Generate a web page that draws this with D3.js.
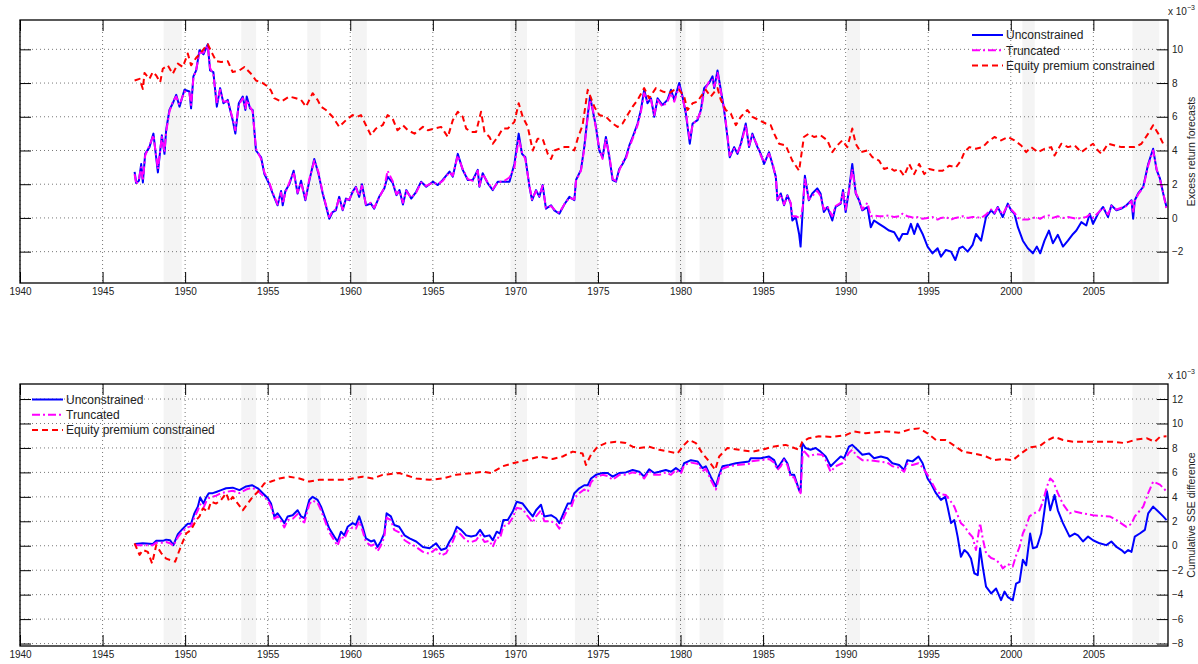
<!DOCTYPE html>
<html>
<head>
<meta charset="utf-8">
<script src="https://cdn.jsdelivr.net/npm/d3@7"></script>
<style>
  body { margin: 0; background: #fff; }
  text { font-family: Helvetica, Arial, "Liberation Sans", sans-serif; fill: #222; }
</style>
</head>
<body>
<div id="chart"></div>
<script>
// ---- data (values are x 10^-3) ----
const xTicks = [1940, 1945, 1950, 1955, 1960, 1965, 1970, 1975, 1980, 1985, 1990, 1995, 2000, 2005];
const topYTicks = [-2, 0, 2, 4, 6, 8, 10];
const bottomYTicks = [-8, -6, -4, -2, 0, 2, 4, 6, 8, 10, 12];
const seriesNames = ["Unconstrained", "Truncated", "Equity premium constrained"];

// shaded recession periods [start, end]
const recessions = [[1948.7, 1949.8], [1953.4, 1954.3], [1957.4, 1958.2], [1960.1, 1961.0], [1969.7, 1970.7],
  [1973.6, 1975.0], [1979.7, 1980.3], [1981.15, 1982.6], [1990.07, 1990.87], [2000.7, 2001.45], [2007.37, 2008.99]];

// top panel: excess return forecasts
const forecastUnconstrained = [
  [1946.94,2.73],[1947.04,2.07],[1947.20,2.2],[1947.34,3.2],[1947.44,2.1],[1947.58,3.8],[1947.84,4.2],[1948.08,5.0],[1948.35,2.7],[1948.59,4.9],[1948.75,3.8],[1948.85,5.2],[1949.05,6.4],[1949.25,6.8],[1949.46,7.3],[1949.66,6.6],[1949.96,7.6],[1950.26,7.5],[1950.36,6.5],[1950.50,8.4],[1950.67,8.75],[1950.87,9.95],[1951.11,9.7],[1951.37,10.3],[1951.51,8.75],[1951.71,8.65],[1951.92,6.6],[1952.12,7.7],[1952.32,6.8],[1952.58,7.0],[1952.88,5.8],[1953.04,5.0],[1953.25,6.8],[1953.49,7.2],[1953.65,6.4],[1953.73,7.2],[1953.93,6.5],[1954.09,6.4],[1954.29,4.0],[1954.60,3.6],[1954.80,2.6],[1955.10,2.0],[1955.30,1.45],[1955.60,0.75],[1955.81,1.6],[1955.91,0.75],[1956.07,1.6],[1956.31,2.0],[1956.57,2.8],[1956.81,1.45],[1957.02,2.2],[1957.28,1.05],[1957.52,2.2],[1957.82,3.5],[1958.08,2.6],[1958.33,1.45],[1958.49,0.85],[1958.73,-0.05],[1958.93,0.35],[1959.13,0.45],[1959.33,1.25],[1959.54,0.45],[1959.74,1.15],[1959.94,1.05],[1960.14,1.55],[1960.34,1.85],[1960.54,1.25],[1960.71,2.0],[1960.95,0.75],[1961.25,0.85],[1961.45,0.55],[1961.75,1.25],[1962.06,1.75],[1962.26,2.45],[1962.56,2.1],[1962.80,1.35],
  [1962.98,1.65],[1963.19,0.8],[1963.39,1.65],[1963.69,1.15],[1963.99,1.55],[1964.29,2.15],[1964.60,1.85],[1965.00,2.15],[1965.30,1.95],[1965.60,2.25],[1966.01,2.75],[1966.21,2.45],[1966.51,3.8],[1966.81,2.85],[1967.12,2.25],[1967.42,2.25],[1967.72,2.85],[1967.82,1.85],[1968.02,2.65],[1968.33,2.05],[1968.63,1.65],[1968.93,2.15],[1969.33,2.15],[1969.64,2.15],[1969.94,3.2],[1970.20,5.0],[1970.40,3.8],[1970.60,3.6],[1970.85,1.85],[1971.01,1.05],[1971.25,1.65],[1971.45,1.25],[1971.65,1.95],[1971.85,0.55],[1972.16,0.75],[1972.36,0.45],[1972.66,0.25],[1972.96,0.8],[1973.27,1.25],[1973.57,1.05],[1973.67,2.25],[1973.97,2.85],[1974.17,4.2],[1974.38,6.1],[1974.52,7.2],[1974.68,6.4],[1974.88,5.4],[1975.08,4.0],[1975.28,3.6],[1975.48,4.8],[1975.69,3.6],[1975.89,2.25],[1976.09,2.15],[1976.29,2.9],[1976.49,3.2],[1976.69,3.6],[1976.90,4.3],[1977.10,4.8],[1977.40,5.6],[1977.60,6.4],[1977.80,7.6],[1978.00,6.8],[1978.21,7.1],[1978.41,6.0],[1978.61,7.1],[1978.91,6.7],[1979.21,7.0],[1979.42,7.6],[1979.62,7.0],[1979.92,8.0],[1980.12,7.2],[1980.32,6.2],[1980.56,4.4],[1980.73,5.6],[1981.03,5.8],[1981.23,6.4],[1981.43,7.7],[1981.73,8.0],[1981.94,8.4],[1982.04,7.7],[1982.24,8.75],[1982.44,7.6],[1982.64,6.4],[1982.84,4.8],[1982.98,3.6],[1983.25,4.2],[1983.45,3.8],[1983.65,4.4],[1983.95,5.6],[1984.15,4.2],[1984.35,5.0],[1984.66,4.2],[1984.86,3.8],[1985.06,3.2],[1985.36,3.9],[1985.56,3.2],[1985.77,2.45],[1985.87,1.05],[1986.07,1.45],[1986.27,0.75],[1986.47,1.35],[1986.67,0.85],[1986.77,-0.15],[1986.98,0.05],[1987.18,-0.95],
  [1987.27,-1.7],[1987.41,0.65],[1987.53,2.5],[1987.77,1.05],[1987.98,1.45],[1988.28,1.75],[1988.48,1.45],[1988.68,0.35],[1988.89,0.65],[1989.19,-0.15],[1989.39,0.65],[1989.70,0.85],[1989.84,1.65],[1990.00,0.35],[1990.20,1.65],[1990.40,3.2],[1990.61,1.45],[1990.81,1.05],[1991.01,0.45],[1991.32,0.65],[1991.52,-0.55],[1991.72,-0.15],[1992.02,-0.35],[1992.33,-0.55],[1992.63,-0.75],[1992.94,-0.85],[1993.24,-1.35],[1993.44,-0.95],[1993.74,-0.95],[1993.95,-0.35],[1994.15,-0.95],[1994.35,-0.35],[1994.66,-0.95],[1994.96,-1.7],[1995.26,-2.1],[1995.57,-1.8],[1995.77,-2.3],[1996.07,-1.9],[1996.38,-2.0],[1996.64,-2.5],[1996.88,-1.8],[1997.09,-1.7],[1997.39,-2.0],[1997.69,-1.6],[1997.89,-0.95],[1998.20,-1.35],[1998.50,0.05],[1998.81,0.45],[1999.01,0.25],[1999.21,0.65],[1999.51,0.05],[1999.82,0.85],[2000.02,0.45],[2000.22,0.25],[2000.43,-0.55],[2000.73,-1.35],[2001.03,-1.8],[2001.34,-2.1],[2001.58,-1.7],[2001.78,-2.1],[2002.04,-1.35],[2002.31,-0.75],[2002.55,-1.5],[2002.85,-1.0],[2003.16,-1.7],[2003.46,-1.35],[2003.77,-0.95],[2003.97,-0.75],[2004.27,-0.25],[2004.57,-0.45],[2004.78,0.25],[2004.98,-0.35],[2005.28,0.25],[2005.59,0.65],[2005.89,0.05],[2006.09,0.75],[2006.40,0.45],[2006.70,0.55],[2007.00,0.75],[2007.31,1.05],[2007.41,-0.05],[2007.51,1.05],[2007.71,1.45],[2008.02,1.85],[2008.32,3.2],[2008.62,4.1],[2008.83,2.85],[2009.03,2.35],[2009.23,1.45],[2009.43,0.65]
];

const forecastTruncated = [
  [1946.94,2.6],[1947.04,2.0],[1947.20,2.3],[1947.34,3.0],[1947.44,2.2],[1947.58,3.7],[1947.84,4.3],[1948.08,4.9],[1948.35,2.9],[1948.59,4.8],[1948.75,3.9],[1948.85,5.1],[1949.05,6.3],[1949.25,6.9],[1949.46,7.2],[1949.66,6.7],[1949.96,7.5],[1950.26,7.4],[1950.36,6.7],[1950.50,8.3],[1950.67,8.8],[1950.87,9.8],[1951.11,9.8],[1951.37,10.2],[1951.51,8.9],[1951.71,8.5],[1951.92,6.8],[1952.12,7.6],[1952.32,6.9],[1952.58,6.9],[1952.88,5.9],[1953.04,5.2],[1953.25,6.7],[1953.49,7.1],[1953.65,6.5],[1953.73,7.0],[1953.93,6.6],[1954.09,6.3],[1954.29,4.1],[1954.60,3.5],[1954.80,2.7],[1955.10,2.1],[1955.30,1.5],[1955.60,0.8],[1955.81,1.5],[1955.91,0.85],[1956.07,1.5],[1956.31,2.1],[1956.57,2.7],[1956.81,1.5],[1957.02,2.1],[1957.28,1.1],[1957.52,2.3],[1957.82,3.4],[1958.08,2.7],[1958.33,1.5],[1958.49,0.9],[1958.73,0.05],[1958.93,0.4],[1959.13,0.5],[1959.33,1.2],[1959.54,0.5],[1959.74,1.1],[1959.94,1.1],[1960.14,1.5],[1960.34,1.8],[1960.54,1.3],[1960.71,1.9],[1960.95,0.8],[1961.25,0.9],[1961.45,0.6],[1961.75,1.2],[1962.06,1.8],[1962.26,2.8],[1962.56,2.2],[1962.80,1.4],
  [1962.98,1.6],[1963.19,0.9],[1963.39,1.6],[1963.69,1.2],[1963.99,1.5],[1964.29,2.1],[1964.60,1.9],[1965.00,2.1],[1965.30,2.0],[1965.60,2.2],[1966.01,2.7],[1966.21,2.5],[1966.51,3.7],[1966.81,2.9],[1967.12,2.3],[1967.42,2.2],[1967.72,2.8],[1967.82,1.9],[1968.02,2.6],[1968.33,2.1],[1968.63,1.7],[1968.93,2.1],[1969.33,2.2],[1969.64,2.4],[1969.94,3.0],[1970.20,4.7],[1970.40,3.9],[1970.60,3.5],[1970.85,1.9],[1971.01,1.1],[1971.25,1.6],[1971.45,1.3],[1971.65,1.9],[1971.85,0.6],[1972.16,0.7],[1972.36,0.5],[1972.66,0.3],[1972.96,0.8],[1973.27,1.2],[1973.57,1.1],[1973.67,2.2],[1973.97,2.8],[1974.17,4.1],[1974.38,6.0],[1974.52,7.0],[1974.68,6.5],[1974.88,5.3],[1975.08,4.1],[1975.28,3.5],[1975.48,4.7],[1975.69,3.7],[1975.89,2.3],[1976.09,2.2],[1976.29,2.8],[1976.49,3.3],[1976.69,3.5],[1976.90,4.2],[1977.10,4.7],[1977.40,5.5],[1977.60,6.3],[1977.80,7.4],[1978.00,6.9],[1978.21,7.0],[1978.41,6.1],[1978.61,7.0],[1978.91,6.6],[1979.21,6.9],[1979.42,7.4],[1979.62,6.9],[1979.92,7.8],[1980.12,7.1],[1980.32,6.3],[1980.56,4.6],[1980.73,5.5],[1981.03,5.9],[1981.23,6.3],[1981.43,7.5],[1981.73,8.1],[1981.94,8.2],[1982.04,7.8],[1982.24,8.6],[1982.44,7.5],[1982.64,6.5],[1982.84,4.9],[1982.98,3.7],[1983.25,4.1],[1983.45,3.9],[1983.65,4.3],[1983.95,5.5],[1984.15,4.3],[1984.35,4.9],[1984.66,4.3],[1984.86,3.7],[1985.06,3.3],[1985.36,3.8],[1985.56,3.3],[1985.77,2.4],[1985.87,1.1],[1986.07,1.4],[1986.27,0.8],[1986.47,1.3],[1986.67,0.9],[1986.77,0.1],[1986.98,0.1],[1987.18,0.0],
  [1987.27,0.0],[1987.41,0.7],[1987.53,2.3],[1987.77,1.1],[1987.98,1.3],[1988.28,1.6],[1988.48,1.3],[1988.68,0.5],[1988.89,0.7],[1989.19,0.1],[1989.39,0.7],[1989.70,0.9],[1989.84,1.5],[1990.00,0.5],[1990.20,1.6],[1990.40,2.9],[1990.61,1.5],[1990.81,1.1],[1991.01,0.5],[1991.32,0.9],[1991.52,0.1],[1991.72,0.15],[1992.02,0.1],[1992.33,0.1],[1992.63,0.15],[1992.94,0.05],[1993.24,0.1],[1993.44,0.25],[1993.74,0.1],[1993.95,0.05],[1994.15,0.0],[1994.35,0.05],[1994.66,-0.05],[1994.96,0.0],[1995.26,0.05],[1995.57,-0.1],[1995.77,0.0],[1996.07,0.05],[1996.38,-0.1],[1996.64,0.0],[1996.88,0.05],[1997.09,0.1],[1997.39,0.0],[1997.69,0.05],[1997.89,0.05],[1998.20,0.0],[1998.50,0.2],[1998.81,0.5],[1999.01,0.3],[1999.21,0.6],[1999.51,0.2],[1999.82,0.8],[2000.02,0.5],[2000.22,0.3],[2000.43,0.0],[2000.73,-0.1],[2001.03,-0.1],[2001.34,0.0],[2001.58,0.05],[2001.78,-0.05],[2002.04,0.1],[2002.31,0.15],[2002.55,0.0],[2002.85,0.1],[2003.16,0.0],[2003.46,0.05],[2003.77,0.0],[2003.97,-0.05],[2004.27,0.0],[2004.57,0.05],[2004.78,0.2],[2004.98,0.0],[2005.28,0.3],[2005.59,0.6],[2005.89,0.2],[2006.09,0.7],[2006.40,0.5],[2006.70,0.6],[2007.00,0.7],[2007.31,1.0],[2007.41,0.3],[2007.51,1.0],[2007.71,1.4],[2008.02,1.8],[2008.32,3.1],[2008.62,4.0],[2008.83,2.9],[2009.03,2.3],[2009.23,1.5],[2009.43,0.5]
];

const forecastConstrained = [
  [1946.94,8.15],[1947.24,8.25],[1947.44,7.65],[1947.54,8.6],[1947.84,8.25],[1948.04,8.65],[1948.25,8.45],[1948.49,8.05],[1948.65,8.85],[1948.95,9.05],[1949.25,8.55],[1949.56,9.15],[1949.86,8.95],[1950.16,9.75],[1950.36,9.05],[1950.67,9.5],[1950.87,9.7],[1951.11,10.0],[1951.37,10.3],[1951.67,9.7],[1951.88,9.3],[1952.18,9.25],[1952.58,9.3],[1952.88,8.65],[1953.29,8.75],[1953.59,8.95],[1953.99,8.55],[1954.29,8.15],[1954.70,8.0],[1955.00,7.8],[1955.20,7.55],[1955.40,7.1],[1955.81,6.9],[1956.31,7.2],[1956.71,7.1],[1957.02,7.0],[1957.32,6.6],[1957.72,7.4],[1958.02,7.0],[1958.23,6.6],[1958.53,6.4],[1958.93,6.0],[1959.33,5.4],[1959.74,5.8],[1960.14,6.1],[1960.44,6.0],[1960.65,6.1],[1960.95,5.5],[1961.25,4.9],[1961.55,5.3],[1961.96,5.5],[1962.26,6.1],[1962.56,5.9],[1962.86,5.2],
  [1963.19,5.5],[1963.49,5.2],[1963.89,5.0],[1964.40,5.4],[1964.70,5.2],[1965.10,5.3],[1965.50,5.4],[1965.91,4.8],[1966.21,5.8],[1966.51,6.3],[1966.81,6.0],[1967.02,5.3],[1967.32,5.1],[1967.62,5.1],[1967.92,6.3],[1968.13,5.1],[1968.43,4.8],[1968.63,4.4],[1968.93,4.8],[1969.23,5.3],[1969.54,5.3],[1969.94,5.7],[1970.20,6.8],[1970.44,6.0],[1970.75,5.4],[1971.05,4.0],[1971.35,4.7],[1971.65,4.7],[1971.96,3.8],[1972.16,3.5],[1972.36,4.0],[1972.66,4.1],[1972.96,4.2],[1973.27,4.2],[1973.57,4.0],[1973.77,4.7],[1974.07,5.5],[1974.38,7.6],[1974.58,7.1],[1974.78,6.6],[1975.08,6.1],[1975.48,6.0],[1975.89,5.6],[1976.19,5.4],[1976.49,5.6],[1976.79,6.1],[1977.10,6.6],[1977.40,7.0],[1977.80,7.7],[1978.10,7.1],[1978.51,7.7],[1978.91,7.5],[1979.31,7.4],[1979.62,7.6],[1979.92,7.6],[1980.22,7.2],[1980.42,6.4],[1980.73,6.8],[1981.03,6.9],[1981.23,7.2],[1981.53,7.6],[1981.83,7.2],[1982.24,7.7],[1982.44,7.0],[1982.74,6.4],[1983.04,6.2],[1983.35,5.5],[1983.65,6.0],[1984.05,6.4],[1984.35,6.0],[1984.76,5.8],[1985.16,5.6],[1985.46,5.5],[1985.67,5.0],[1985.97,4.4],[1986.37,4.3],[1986.77,3.4],[1987.18,2.8],
  [1987.47,4.8],[1987.77,5.0],[1988.08,4.8],[1988.48,4.9],[1988.89,4.6],[1989.19,3.9],[1989.49,4.3],[1989.80,4.6],[1990.10,4.2],[1990.40,5.3],[1990.61,4.4],[1990.91,3.9],[1991.32,4.0],[1991.62,3.6],[1992.02,3.4],[1992.33,2.9],[1992.63,3.0],[1992.94,2.8],[1993.24,2.9],[1993.54,2.5],[1993.85,3.2],[1994.15,2.6],[1994.45,3.2],[1994.76,2.6],[1995.06,2.9],[1995.47,2.8],[1995.87,2.8],[1996.28,3.1],[1996.68,3.0],[1996.98,3.4],[1997.19,3.9],[1997.49,4.2],[1997.89,4.1],[1998.30,4.2],[1998.60,4.5],[1999.01,4.8],[1999.41,4.6],[1999.82,4.8],[2000.22,4.6],[2000.63,4.3],[2000.93,3.9],[2001.23,4.2],[2001.64,3.9],[2002.04,4.1],[2002.45,4.2],[2002.65,3.7],[2003.06,4.4],[2003.46,4.2],[2003.87,4.3],[2004.27,3.9],[2004.68,4.2],[2004.98,4.4],[2005.28,4.0],[2005.49,3.8],[2005.89,4.4],[2006.30,4.3],[2006.70,4.2],[2007.11,4.2],[2007.51,4.2],[2007.91,4.4],[2008.32,5.0],[2008.62,5.5],[2008.93,5.0],[2009.23,4.4],[2009.43,4.3]
];

// bottom panel: cumulative SSE difference
const sseUnconstrained = [
  [1946.94,0.15],[1947.44,0.2],[1948.04,0.15],[1948.25,0.4],[1948.65,0.4],[1948.85,0.5],[1949.09,0.45],[1949.29,0.05],[1949.56,0.95],[1949.86,1.4],[1950.16,1.8],[1950.36,1.8],[1950.56,2.65],[1950.77,3.2],[1950.91,3.95],[1951.11,3.45],[1951.27,3.95],[1951.43,4.3],[1951.67,4.3],[1951.88,4.4],[1952.18,4.55],[1952.48,4.7],[1952.88,4.75],[1953.29,4.55],[1953.69,4.85],[1954.05,4.95],[1954.40,4.7],[1954.70,4.3],[1955.00,3.9],[1955.20,3.45],[1955.40,2.4],[1955.60,2.65],[1955.81,2.25],[1956.01,1.85],[1956.21,2.4],[1956.51,2.5],[1956.81,2.9],[1957.02,2.4],[1957.22,2.25],[1957.52,3.75],[1957.72,4.0],[1958.02,3.75],[1958.23,3.2],[1958.53,2.1],[1958.73,1.4],[1959.03,0.75],[1959.23,0.35],[1959.44,1.15],[1959.64,0.85],[1959.84,1.55],[1960.14,1.85],[1960.34,1.7],[1960.54,2.4],[1960.75,1.55],[1960.95,0.6],[1961.25,0.35],[1961.45,0.45],[1961.65,-0.1],[1961.85,0.35],[1962.06,1.0],[1962.20,2.65],[1962.46,2.4],[1962.66,1.7],[1962.96,1.55],
  [1963.29,0.85],[1963.59,0.6],[1963.99,0.35],[1964.40,-0.1],[1964.80,-0.2],[1965.20,0.2],[1965.50,-0.35],[1965.81,-0.2],[1966.01,0.35],[1966.21,0.75],[1966.45,1.55],[1966.71,1.3],[1967.02,0.85],[1967.32,0.75],[1967.62,0.85],[1967.86,1.3],[1968.13,0.75],[1968.43,0.85],[1968.63,0.45],[1968.87,1.15],[1969.07,1.0],[1969.27,2.1],[1969.54,2.1],[1969.84,2.8],[1970.08,3.6],[1970.44,3.45],[1970.75,2.9],[1971.05,2.4],[1971.25,2.9],[1971.55,3.35],[1971.75,2.4],[1972.16,2.5],[1972.46,2.25],[1972.66,1.85],[1972.96,2.8],[1973.17,3.45],[1973.37,3.45],[1973.57,4.3],[1973.87,4.7],[1974.17,4.95],[1974.38,4.95],[1974.58,5.5],[1974.88,5.8],[1975.28,5.95],[1975.58,5.95],[1975.89,5.65],[1976.29,5.95],[1976.69,6.0],[1977.10,6.2],[1977.50,6.05],[1977.80,5.65],[1978.10,6.25],[1978.41,5.95],[1978.71,6.05],[1979.11,6.2],[1979.42,6.05],[1979.72,6.35],[1980.02,6.05],[1980.22,6.75],[1980.63,7.0],[1981.03,6.9],[1981.33,6.35],[1981.53,6.5],[1981.83,5.65],[1982.14,4.85],[1982.34,5.8],[1982.54,6.5],[1982.94,6.6],[1983.35,6.75],[1984.15,6.9],[1984.25,7.15],[1984.86,7.15],[1985.36,7.3],[1985.67,7.0],[1985.87,6.35],[1986.07,6.75],[1986.27,7.15],[1986.47,6.75],[1986.67,5.8],[1986.88,5.8],[1987.18,4.55],
  [1987.27,4.4],[1987.37,8.4],[1987.57,8.0],[1987.87,7.85],[1988.18,8.0],[1988.48,7.7],[1988.79,7.3],[1989.09,6.5],[1989.39,6.9],[1989.70,7.3],[1989.90,7.15],[1990.20,8.1],[1990.40,8.25],[1990.71,7.85],[1991.01,7.45],[1991.42,7.55],[1991.72,7.15],[1992.13,7.3],[1992.53,7.15],[1992.83,6.75],[1993.24,6.6],[1993.54,6.2],[1993.74,7.0],[1994.05,6.9],[1994.41,7.3],[1994.66,6.75],[1994.96,5.5],[1995.16,5.1],[1995.47,4.3],[1995.77,3.75],[1996.03,4.0],[1996.17,3.2],[1996.38,1.85],[1996.58,2.1],[1996.78,0.75],[1996.98,-0.9],[1997.19,-0.35],[1997.39,-0.6],[1997.59,-1.05],[1997.79,-2.25],[1998.00,-2.4],[1998.14,-0.2],[1998.30,-1.7],[1998.50,-3.35],[1998.81,-3.9],[1999.11,-3.5],[1999.41,-4.45],[1999.62,-3.75],[1999.82,-4.2],[2000.12,-4.45],[2000.32,-3.1],[2000.53,-2.95],[2000.73,-1.15],[2000.93,-1.6],[2001.17,1.0],[2001.34,-0.2],[2001.58,-0.1],[2001.84,1.0],[2002.04,2.9],[2002.19,4.45],[2002.39,2.9],[2002.65,4.15],[2002.85,2.9],[2003.16,1.85],[2003.36,1.3],[2003.56,0.75],[2003.87,1.0],[2004.07,0.85],[2004.37,0.35],[2004.68,0.75],[2004.98,0.45],[2005.38,0.2],[2005.79,0.05],[2006.09,0.35],[2006.40,-0.1],[2006.70,-0.35],[2006.90,-0.6],[2007.11,-0.35],[2007.31,-0.5],[2007.51,0.75],[2007.81,1.0],[2008.12,1.3],[2008.32,2.65],[2008.62,3.2],[2008.93,2.8],[2009.23,2.4],[2009.43,2.1]
];

const sseTruncated = [
  [1946.94,0.05],[1947.44,0.05],[1948.04,0.05],[1948.25,0.25],[1948.65,0.25],[1948.85,0.3],[1949.09,0.2],[1949.29,0.0],[1949.56,0.7],[1949.86,1.2],[1950.16,1.5],[1950.36,1.6],[1950.56,2.3],[1950.77,2.9],[1950.91,3.4],[1951.11,3.1],[1951.27,3.6],[1951.43,3.9],[1951.67,4.0],[1951.88,4.1],[1952.18,4.3],[1952.48,4.4],[1952.88,4.5],[1953.29,4.3],[1953.69,4.6],[1954.05,4.75],[1954.40,4.5],[1954.70,4.1],[1955.00,3.7],[1955.20,3.2],[1955.40,2.2],[1955.60,2.4],[1955.81,2.0],[1956.01,1.5],[1956.21,2.1],[1956.51,2.2],[1956.81,2.6],[1957.02,2.1],[1957.22,1.9],[1957.52,3.4],[1957.72,3.7],[1958.02,3.5],[1958.23,2.9],[1958.53,1.8],[1958.73,1.1],[1959.03,0.45],[1959.23,0.0],[1959.44,0.8],[1959.64,0.55],[1959.84,1.2],[1960.14,1.5],[1960.34,1.4],[1960.54,2.0],[1960.75,1.2],[1960.95,0.3],[1961.25,0.0],[1961.45,0.1],[1961.65,-0.45],[1961.85,0.0],[1962.06,0.7],[1962.20,2.3],[1962.46,2.1],[1962.66,1.3],[1962.96,1.1],
  [1963.29,0.45],[1963.59,0.2],[1963.99,-0.1],[1964.40,-0.5],[1964.80,-0.65],[1965.20,-0.25],[1965.50,-0.8],[1965.81,-0.6],[1966.01,-0.05],[1966.21,0.35],[1966.45,1.2],[1966.71,0.9],[1967.02,0.4],[1967.32,0.3],[1967.62,0.45],[1967.86,0.9],[1968.13,0.3],[1968.43,0.4],[1968.63,-0.1],[1968.87,0.7],[1969.07,0.6],[1969.27,1.6],[1969.54,1.7],[1969.84,2.3],[1970.08,3.1],[1970.44,3.0],[1970.75,2.4],[1971.05,1.9],[1971.25,2.4],[1971.55,2.9],[1971.75,2.0],[1972.16,2.0],[1972.46,1.8],[1972.66,1.4],[1972.96,2.4],[1973.17,3.0],[1973.37,3.1],[1973.57,3.9],[1973.87,4.3],[1974.17,4.6],[1974.38,4.4],[1974.58,5.2],[1974.88,5.6],[1975.28,5.8],[1975.58,5.7],[1975.89,5.4],[1976.29,5.8],[1976.69,5.8],[1977.10,6.0],[1977.50,5.9],[1977.80,5.5],[1978.10,6.1],[1978.41,5.8],[1978.71,5.8],[1979.11,6.0],[1979.42,5.8],[1979.72,6.2],[1980.02,5.9],[1980.22,6.6],[1980.63,6.8],[1981.03,6.7],[1981.33,6.1],[1981.53,6.3],[1981.83,5.4],[1982.14,4.6],[1982.34,5.6],[1982.54,6.3],[1982.94,6.5],[1983.35,6.6],[1984.15,6.7],[1984.25,6.9],[1984.86,7.0],[1985.36,7.1],[1985.67,6.8],[1985.87,6.2],[1986.07,6.5],[1986.27,7.0],[1986.47,6.6],[1986.67,5.6],[1986.88,5.6],[1987.18,4.5],
  [1987.27,4.3],[1987.41,7.85],[1987.77,7.3],[1988.18,7.5],[1988.58,7.45],[1988.79,7.0],[1989.09,6.05],[1989.39,6.5],[1989.80,6.75],[1990.20,7.6],[1990.40,7.85],[1990.71,7.3],[1991.01,7.0],[1991.42,7.0],[1992.02,6.9],[1992.53,6.8],[1992.83,6.5],[1993.24,6.4],[1993.54,6.05],[1993.74,6.7],[1994.05,6.6],[1994.41,6.75],[1994.66,6.4],[1994.96,5.8],[1995.47,4.55],[1995.77,4.2],[1996.07,4.15],[1996.38,3.6],[1996.58,3.2],[1996.78,2.5],[1996.98,1.85],[1997.19,1.6],[1997.49,1.0],[1997.69,0.7],[1997.89,-0.35],[1998.14,1.85],[1998.30,0.6],[1998.50,-0.6],[1998.81,-1.0],[1999.11,-1.15],[1999.41,-1.6],[1999.51,-1.85],[1999.82,-1.5],[2000.12,-1.7],[2000.32,-0.8],[2000.53,-0.1],[2000.73,1.0],[2000.93,1.6],[2001.13,2.4],[2001.34,2.6],[2001.74,2.9],[2001.94,3.6],[2002.19,4.85],[2002.39,5.5],[2002.55,5.3],[2002.85,4.3],[2003.16,3.4],[2003.56,2.65],[2003.87,2.8],[2004.37,2.65],[2004.98,2.5],[2005.38,2.45],[2005.99,2.4],[2006.40,2.1],[2007.00,1.55],[2007.31,1.8],[2007.51,2.4],[2008.02,3.2],[2008.32,4.3],[2008.62,5.25],[2009.03,5.0],[2009.43,4.45]
];

const sseConstrained = [
  [1946.94,0.2],[1947.24,-0.75],[1947.44,-0.35],[1947.74,-0.5],[1948.00,-1.45],[1948.25,0.05],[1948.55,-0.6],[1948.85,-1.05],[1949.15,-1.2],[1949.40,-1.3],[1949.66,-0.35],[1950.06,1.0],[1950.36,1.3],[1950.67,2.1],[1950.87,2.4],[1951.07,3.05],[1951.37,2.8],[1951.57,3.6],[1951.88,3.45],[1952.18,3.75],[1952.48,4.3],[1952.68,3.6],[1952.88,4.0],[1953.19,3.45],[1953.49,2.9],[1953.79,3.45],[1954.09,4.0],[1954.50,4.55],[1954.80,5.1],[1955.20,5.25],[1955.71,5.5],[1956.31,5.65],[1956.92,5.5],[1957.52,5.25],[1958.13,5.4],[1958.93,5.4],[1959.74,5.4],[1960.14,5.5],[1960.75,5.65],[1961.35,5.5],[1961.96,5.8],[1962.96,5.95],
  [1963.99,5.5],[1964.80,5.4],[1965.60,5.5],[1966.41,5.8],[1967.42,5.95],[1968.02,6.05],[1968.53,5.95],[1969.23,6.5],[1969.84,6.75],[1970.65,7.0],[1971.45,7.3],[1972.26,7.1],[1972.86,7.3],[1973.47,7.7],[1974.07,7.55],[1974.27,6.6],[1974.58,7.45],[1974.98,8.1],[1975.48,8.4],[1976.09,8.5],[1976.69,8.4],[1977.10,8.1],[1977.50,8.0],[1978.10,8.1],[1978.71,7.85],[1979.31,7.7],[1979.82,7.55],[1980.22,8.25],[1980.52,8.65],[1980.93,8.4],[1981.33,7.55],[1981.73,6.9],[1982.10,6.2],[1982.34,7.3],[1982.84,8.0],[1983.55,7.85],[1984.35,7.7],[1984.96,7.85],[1985.56,8.1],[1986.37,8.25],[1987.18,7.85],
  [1987.37,8.5],[1987.77,8.8],[1988.38,8.95],[1989.19,8.9],[1990.00,9.05],[1990.51,9.35],[1991.21,9.2],[1992.43,9.35],[1993.24,9.25],[1993.85,9.5],[1994.45,9.6],[1994.96,9.2],[1995.47,8.65],[1996.07,8.65],[1996.68,8.1],[1997.09,7.7],[1997.69,7.55],[1998.10,7.45],[1998.50,7.3],[1999.01,7.0],[1999.51,7.1],[2000.12,7.0],[2000.63,7.55],[2001.13,8.05],[2001.74,8.15],[2002.25,8.65],[2002.65,8.9],[2003.16,8.65],[2003.77,8.5],[2004.57,8.5],[2005.38,8.5],[2006.19,8.5],[2006.90,8.4],[2007.61,8.7],[2008.22,8.8],[2008.72,8.5],[2009.03,8.9],[2009.43,8.95]
];

// ---- layout ----
const WIDTH = 1198;
const HEIGHT = 664;
const PLOT_LEFT = 20;
const PLOT_RIGHT = 1168;
const X_DOMAIN = [1940, 2009.52];
const TICK_LEN = 11;

const lineStyles = [
    {color: "#0000ff", dash: null},
    {color: "#ff00ff", dash: "8,3,2,3"},
    {color: "#ff0000", dash: "6,4"}
];

const svg = d3.select("#chart")
    .append("svg")
    .attr("width", WIDTH)
    .attr("height", HEIGHT);

const xScale = d3.scaleLinear().domain(X_DOMAIN).range([PLOT_LEFT, PLOT_RIGHT]);

function drawPanel(panel) {
    const yScale = d3.scaleLinear().domain(panel.yDomain).range([panel.bottom, panel.top]);
    const g = svg.append("g");

    // clip for data lines
    g.append("clipPath").attr("id", panel.id + "-clip")
        .append("rect")
        .attr("x", PLOT_LEFT).attr("y", panel.top)
        .attr("width", PLOT_RIGHT - PLOT_LEFT).attr("height", panel.bottom - panel.top);

    // recession shading
    g.selectAll("rect.rec")
        .data(recessions)
        .join("rect")
        .attr("class", "rec")
        .attr("x", d => xScale(d[0]))
        .attr("width", d => xScale(d[1]) - xScale(d[0]))
        .attr("y", panel.top)
        .attr("height", panel.bottom - panel.top)
        .attr("fill", "#f4f4f4");

    // dotted grid
    g.selectAll("line.vgrid")
        .data(xTicks)
        .join("line")
        .attr("x1", d => xScale(d)).attr("x2", d => xScale(d))
        .attr("y1", panel.top).attr("y2", panel.bottom)
        .attr("stroke", "#555").attr("stroke-width", 0.8).attr("stroke-dasharray", "1,3");
    g.selectAll("line.hgrid")
        .data(panel.yTicks)
        .join("line")
        .attr("x1", PLOT_LEFT).attr("x2", PLOT_RIGHT)
        .attr("y1", d => yScale(d)).attr("y2", d => yScale(d))
        .attr("stroke", "#555").attr("stroke-width", 0.8).attr("stroke-dasharray", "1,3");

    // series lines
    const line = d3.line().x(d => xScale(d[0])).y(d => yScale(d[1]));
    const lines = g.append("g").attr("clip-path", `url(#${panel.id}-clip)`);
    panel.series.forEach((s, i) => {
        lines.append("path")
            .datum(s)
            .attr("d", line)
            .attr("fill", "none")
            .attr("stroke", lineStyles[i].color)
            .attr("stroke-width", 2)
            .attr("stroke-linejoin", "round")
            .attr("stroke-dasharray", lineStyles[i].dash);
    });

    // axes with inward ticks on all four sides
    const bottomAxis = g.append("g")
        .attr("transform", `translate(0,${panel.bottom})`)
        .call(d3.axisBottom(xScale).tickValues(xTicks).tickFormat(d3.format("d"))
            .tickSizeInner(-TICK_LEN).tickSizeOuter(0).tickPadding(5));
    g.append("g")
        .attr("transform", `translate(0,${panel.top})`)
        .call(d3.axisTop(xScale).tickValues(xTicks).tickFormat("")
            .tickSizeInner(-TICK_LEN).tickSizeOuter(0));
    g.append("g")
        .attr("transform", `translate(${PLOT_LEFT},0)`)
        .call(d3.axisLeft(yScale).tickValues(panel.yTicks).tickFormat("")
            .tickSizeInner(-TICK_LEN).tickSizeOuter(0));
    const rightAxis = g.append("g")
        .attr("transform", `translate(${PLOT_RIGHT},0)`)
        .call(d3.axisRight(yScale).tickValues(panel.yTicks)
            .tickSizeInner(-TICK_LEN).tickSizeOuter(0).tickPadding(4));

    g.selectAll(".domain").remove();
    g.selectAll(".tick line").attr("stroke", "#000").attr("stroke-width", 1);
    g.selectAll(".tick text")
        .attr("font-size", 10)
        .attr("font-family", "Helvetica, Arial, 'Liberation Sans', sans-serif")
        .attr("fill", "#222");

    // box
    g.append("rect")
        .attr("x", PLOT_LEFT).attr("y", panel.top)
        .attr("width", PLOT_RIGHT - PLOT_LEFT).attr("height", panel.bottom - panel.top)
        .attr("fill", "none").attr("stroke", "#000").attr("stroke-width", 1.3);

    // exponent label
    const expo = g.append("text")
        .attr("x", PLOT_RIGHT)
        .attr("y", panel.top - 5)
        .attr("font-size", 10);
    expo.append("tspan").text("x 10");
    expo.append("tspan").attr("font-size", 7).attr("dy", -5).text("\u22123");

    // y label on the right
    g.append("text")
        .attr("transform", `translate(1195,${(panel.top + panel.bottom) / 2}) rotate(-90)`)
        .attr("text-anchor", "middle")
        .attr("font-size", 10.5)
        .text(panel.yLabel);

    // legend (no frame)
    const legend = g.append("g");
    seriesNames.forEach((name, i) => {
        const y = panel.legendY + i * 15.3;
        legend.append("line")
            .attr("x1", panel.legendX).attr("x2", panel.legendX + 31)
            .attr("y1", y).attr("y2", y)
            .attr("stroke", lineStyles[i].color)
            .attr("stroke-width", 2)
            .attr("stroke-dasharray", lineStyles[i].dash);
        legend.append("text")
            .attr("x", panel.legendX + 34)
            .attr("y", y)
            .attr("dy", "0.35em")
            .attr("font-size", 12)
            .text(name);
    });
}

drawPanel({
    id: "top",
    top: 20,
    bottom: 283,
    yDomain: [-3.86, 11.74],
    yTicks: topYTicks,
    series: [forecastUnconstrained, forecastTruncated, forecastConstrained],
    yLabel: "Excess return forecasts",
    legendX: 972,
    legendY: 35
});

drawPanel({
    id: "bottom",
    top: 384,
    bottom: 646,
    yDomain: [-8.2, 13.23],
    yTicks: bottomYTicks,
    series: [sseUnconstrained, sseTruncated, sseConstrained],
    yLabel: "Cumulative SSE difference",
    legendX: 32,
    legendY: 399.5
});
</script>
</body>
</html>
